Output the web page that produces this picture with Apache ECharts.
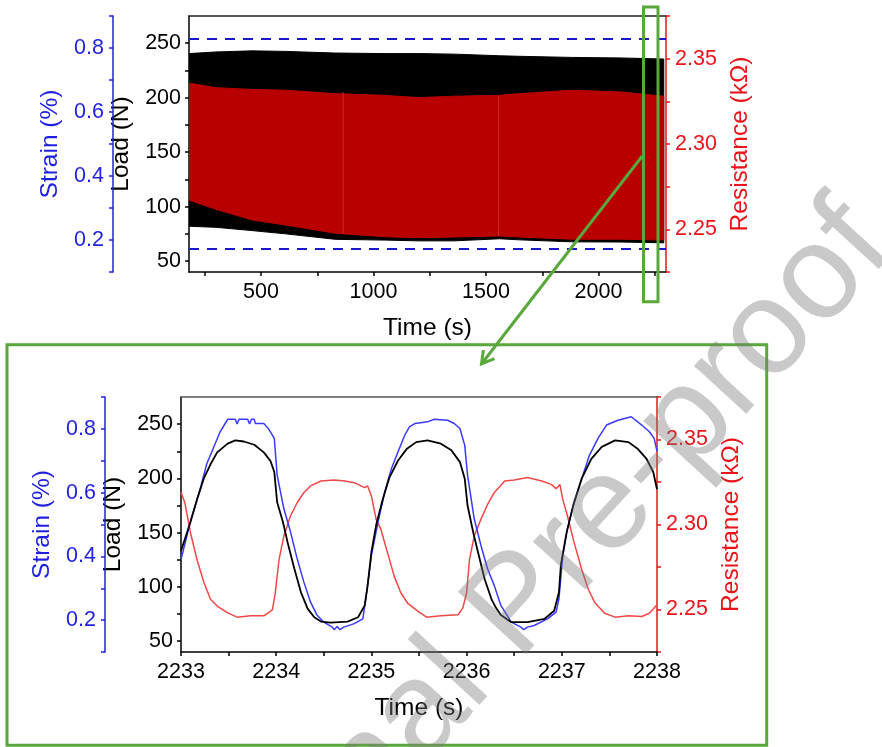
<!DOCTYPE html>
<html>
<head>
<meta charset="utf-8">
</head>
<body style="margin:0;background:#fff">
<div id="main" style="width:882px;height:747px"></div>
<script src="https://cdn.jsdelivr.net/npm/echarts@6.0.0/dist/echarts.min.js"></script>
<script>
var chart = echarts.init(document.getElementById('main'));
var FONT = 'Liberation Sans, Arial, sans-serif';

// overview panel: envelopes of the cyclic load / resistance signal
var ovTime    = [180, 300, 460, 610, 830, 1050, 1200, 1360, 1560, 1650, 1880, 2100, 2290];
var ovLoadTop = [240.5, 242, 243, 242.5, 241, 240.5, 240.5, 240, 238.5, 238, 237, 236.5, 235.5];
var ovLoadBot = [82, 81, 78, 75, 70, 69.3, 68.6, 68.6, 70.5, 69.5, 67.7, 67.5, 66.8];
var ovResTop  = [2.3357, 2.333, 2.332, 2.3315, 2.3295, 2.3285, 2.3272, 2.328, 2.3285, 2.3295, 2.3315, 2.3305, 2.328];
var ovResBot  = [2.2671, 2.2617, 2.2555, 2.2525, 2.2477, 2.2457, 2.2451, 2.2455, 2.2461, 2.2455, 2.2442, 2.2442, 2.2437];
var loadLimits = [254, 61];
var ovRange = [180, 2300];
// faint seams inside the resistance band: time, top, bottom
var seamTime = [865, 1556];
var seamTop  = [2.3305, 2.3285];
var seamBot  = [2.2475, 2.2461];

// zoomed panel: 2233 - 2238 s
var loadPts = [[2233.00,133],[2233.10,160],[2233.17,181],[2233.24,200],[2233.31,213],[2233.38,224],[2233.49,232],
  [2233.57,235],[2233.66,234],[2233.77,231],[2233.87,224],[2233.94,216],[2233.98,206],[2234.01,178],[2234.07,160],
  [2234.12,141],[2234.19,117],[2234.26,95],[2234.33,80],[2234.40,72],[2234.47,68],[2234.57,67],[2234.75,68],
  [2234.86,72],[2234.93,83],[2234.96,101],[2235.00,132],[2235.05,157],[2235.12,181],[2235.19,201],[2235.28,216.5],
  [2235.37,227],[2235.47,233.4],[2235.59,235],[2235.73,232],[2235.84,226],[2235.93,215],[2235.98,200],[2236.01,175],
  [2236.07,150],[2236.12,132],[2236.19,107],[2236.26,89],[2236.30,82],[2236.36,74],[2236.47,67.5],[2236.64,67.5],
  [2236.82,70.6],[2236.92,78],[2236.97,95],[2236.99,120],[2237.05,150],[2237.12,175],[2237.21,200],[2237.31,218],
  [2237.42,229],[2237.56,235],[2237.70,233.4],[2237.80,227],[2237.89,218],[2237.96,206],[2238.00,190]];
var strainPts = [[2233.00,0.39],[2233.10,0.51],[2233.20,0.61],[2233.27,0.69],[2233.34,0.74],[2233.41,0.79],[2233.47,0.82],
  [2233.49,0.83],[2233.57,0.83],[2233.59,0.815],[2233.61,0.83],[2233.70,0.83],[2233.72,0.815],[2233.74,0.83],
  [2233.77,0.83],[2233.78,0.817],[2233.87,0.817],[2233.92,0.80],[2233.98,0.77],[2234.01,0.655],[2234.08,0.55],
  [2234.15,0.477],[2234.22,0.393],[2234.29,0.32],[2234.36,0.257],[2234.43,0.215],[2234.50,0.194],[2234.59,0.178],
  [2234.61,0.17],[2234.64,0.18],[2234.67,0.17],[2234.71,0.178],[2234.82,0.189],[2234.91,0.204],[2234.96,0.309],
  [2235.00,0.403],[2235.07,0.508],[2235.14,0.602],[2235.21,0.675],[2235.28,0.728],[2235.35,0.78],[2235.40,0.806],
  [2235.46,0.817],[2235.59,0.822],[2235.66,0.83],[2235.80,0.827],[2235.87,0.817],[2235.93,0.801],[2235.98,0.749],
  [2236.01,0.655],[2236.08,0.518],[2236.15,0.435],[2236.22,0.361],[2236.29,0.309],[2236.36,0.246],[2236.47,0.194],
  [2236.57,0.178],[2236.60,0.17],[2236.64,0.178],[2236.71,0.183],[2236.85,0.204],[2236.94,0.225],[2236.97,0.267],
  [2237.01,0.403],[2237.06,0.487],[2237.13,0.571],[2237.21,0.644],[2237.29,0.717],[2237.38,0.77],[2237.47,0.812],
  [2237.59,0.827],[2237.73,0.838],[2237.84,0.812],[2237.92,0.791],[2237.97,0.77],[2238.00,0.73]];
var resPts = [[2233.00,2.319],[2233.04,2.313],[2233.10,2.295],[2233.17,2.279],[2233.24,2.266],[2233.31,2.256],
  [2233.38,2.252],[2233.49,2.248],[2233.59,2.2455],[2233.73,2.2463],[2233.87,2.2463],[2233.96,2.2498],[2233.99,2.2597],
  [2234.03,2.2793],[2234.08,2.2932],[2234.15,2.305],[2234.22,2.3128],[2234.29,2.3187],[2234.36,2.3227],[2234.47,2.3256],
  [2234.61,2.3262],[2234.72,2.3256],[2234.82,2.3246],[2234.93,2.3217],[2234.96,2.3227],[2235.00,2.3168],[2235.05,2.303],
  [2235.10,2.2971],[2235.17,2.2833],[2235.24,2.2695],[2235.31,2.2597],[2235.38,2.2538],[2235.49,2.2489],[2235.58,2.2455],
  [2235.73,2.2463],[2235.91,2.2469],[2235.96,2.2508],[2236.00,2.2597],[2236.03,2.2793],[2236.08,2.2932],[2236.15,2.303],
  [2236.22,2.3118],[2236.29,2.3187],[2236.40,2.3256],[2236.50,2.3262],[2236.64,2.3276],[2236.79,2.3256],[2236.89,2.3236],
  [2236.94,2.3211],[2236.98,2.3236],[2237.01,2.3148],[2237.06,2.305],[2237.13,2.2892],[2237.21,2.2734],[2237.28,2.2616],
  [2237.35,2.2538],[2237.45,2.2478],[2237.56,2.2455],[2237.70,2.2463],[2237.84,2.2459],[2237.92,2.2478],[2238.00,2.2528]];

var BLUE = '#1f1fe0', RED = '#e8141a', GREEN = '#5aa83c';

function txt(c, s) { return { color: c, fontSize: s, fontFamily: FONT }; }

function loadAxis(g) {
  return {
    gridIndex: g, type: 'value', position: 'left', min: 40, max: 275,
    name: 'Load (N)', nameLocation: 'middle', nameGap: 52, nameTextStyle: txt('#000', 24.5),
    axisLine: { show: true, lineStyle: { color: '#000', width: 1.5 } },
    axisTick: { show: true, length: 4, customValues: [50, 75, 100, 125, 150, 175, 200, 225, 250], lineStyle: { color: '#000', width: 1.5 } },
    axisLabel: Object.assign({ customValues: [50, 100, 150, 200, 250], margin: 8 }, txt('#000', 21.5)),
    splitLine: { show: false }
  };
}
function strainAxis(g) {
  return {
    gridIndex: g, type: 'value', position: 'left', offset: 76, min: 0.1, max: 0.9, interval: 0.1,
    name: 'Strain (%)', nameLocation: 'middle', nameGap: 43, nameTextStyle: txt(BLUE, 24.5),
    axisLine: { show: true, lineStyle: { color: BLUE, width: 1.5 } },
    axisTick: { show: true, length: 4, lineStyle: { color: BLUE, width: 1.5 } },
    axisLabel: Object.assign({
      margin: 9, showMinLabel: true, showMaxLabel: true,
      formatter: function (v) { var k = Math.round(v * 10); return k % 2 === 0 ? (k / 10).toFixed(1) : ''; }
    }, txt(BLUE, 21.5)),
    splitLine: { show: false }
  };
}
function resAxis(g) {
  return {
    gridIndex: g, type: 'value', position: 'right', min: 2.225, max: 2.375, interval: 0.025,
    name: 'Resistance (k\u03A9)', nameLocation: 'middle', nameGap: 57, nameTextStyle: txt(RED, 24.5),
    axisLine: { show: true, lineStyle: { color: RED, width: 1.5 } },
    axisTick: { show: true, length: 4, lineStyle: { color: RED, width: 1.5 } },
    axisLabel: Object.assign({
      margin: 9,
      formatter: function (v) { var k = Math.round(v * 1000); return k % 50 === 0 ? (k / 1000).toFixed(2) : ''; }
    }, txt(RED, 21.5)),
    splitLine: { show: false }
  };
}
function frameTop(g, min, max, col) {
  return {
    gridIndex: g, type: 'value', position: 'top', min: min, max: max,
    axisLine: { show: true, onZero: false, lineStyle: { color: col, width: 1.5 } },
    axisTick: { show: false }, axisLabel: { show: false }, splitLine: { show: false }
  };
}

// filled envelope between two boundaries, drawn as one polygon in axis coordinates
function band(yi, top, bot, color, z) {
  return {
    type: 'custom', xAxisIndex: 0, yAxisIndex: yi, z: z, silent: true, clip: true,
    data: ovTime.map(function (t, i) { return [t, bot[i], top[i]]; }),
    encode: { x: 0, y: [1, 2] },
    renderItem: function (params, api) {
      if (params.dataIndex !== 0) return null;
      var pts = [], i;
      for (i = 0; i < ovTime.length; i++) pts.push(api.coord([ovTime[i], top[i]]));
      for (i = ovTime.length - 1; i >= 0; i--) pts.push(api.coord([ovTime[i], bot[i]]));
      return { type: 'polygon', shape: { points: pts }, style: { fill: color, stroke: color, lineWidth: 1 } };
    }
  };
}

var series = [
  band(0, ovLoadTop, ovLoadBot, '#000', 2),
  band(2, ovResTop, ovResBot, '#b80000', 3)
];
seamTime.forEach(function (t, i) {
  series.push({
    type: 'line', xAxisIndex: 0, yAxisIndex: 2, symbol: 'none', silent: true, z: 3,
    data: [[t, seamBot[i]], [t, seamTop[i]]],
    lineStyle: { color: '#d02828', width: 1 }
  });
});
loadLimits.forEach(function (v) {
  series.push({
    type: 'line', xAxisIndex: 0, yAxisIndex: 0, symbol: 'none', silent: true, z: 4,
    data: [[ovRange[0], v], [ovRange[1], v]],
    lineStyle: { color: '#1a1acc', type: [10, 8], width: 2 }
  });
});
series.push(
  {
    type: 'line', xAxisIndex: 2, yAxisIndex: 5, data: resPts, symbol: 'none',
    lineStyle: { color: '#f04848', width: 1.5 }, z: 4
  },
  {
    type: 'line', xAxisIndex: 2, yAxisIndex: 4, data: strainPts, symbol: 'none',
    lineStyle: { color: '#3a3aff', width: 1.5 }, z: 5
  },
  {
    type: 'line', xAxisIndex: 2, yAxisIndex: 3, data: loadPts, symbol: 'none',
    lineStyle: { color: '#000', width: 1.8 }, z: 6
  }
);

var option = {
  animation: false,
  backgroundColor: '#fff',
  grid: [
    { left: 189, top: 16, width: 477, height: 256 },
    { left: 181, top: 397, width: 476, height: 255 }
  ],
  xAxis: [
    {
      gridIndex: 0, type: 'value', position: 'bottom', min: ovRange[0], max: ovRange[1],
      name: 'Time (s)', nameLocation: 'middle', nameGap: 44, nameTextStyle: txt('#000', 24.5),
      axisLine: { show: true, onZero: false, lineStyle: { color: '#000', width: 1.5 } },
      axisTick: { show: true, length: 4, customValues: [250, 500, 750, 1000, 1250, 1500, 1750, 2000, 2250], lineStyle: { color: '#000', width: 1.5 } },
      axisLabel: Object.assign({ customValues: [500, 1000, 1500, 2000], margin: 9, formatter: function (v) { return String(v); } }, txt('#000', 21.5)),
      splitLine: { show: false }
    },
    frameTop(0, ovRange[0], ovRange[1], '#222'),
    {
      gridIndex: 1, type: 'value', position: 'bottom', min: 2233, max: 2238, interval: 1,
      name: 'Time (s)', nameLocation: 'middle', nameGap: 44, nameTextStyle: txt('#000', 24.5),
      axisLine: { show: true, onZero: false, lineStyle: { color: '#000', width: 1.5 } },
      axisTick: { show: true, length: 4, lineStyle: { color: '#000', width: 1.5 } },
      minorTick: { show: true, splitNumber: 2, length: 4, lineStyle: { color: '#000', width: 1.5 } },
      axisLabel: Object.assign({ margin: 9, showMinLabel: true, showMaxLabel: true, formatter: function (v) { return String(v); } }, txt('#000', 21.5)),
      splitLine: { show: false }
    },
    frameTop(1, 2233, 2238, '#555')
  ],
  yAxis: [loadAxis(0), strainAxis(0), resAxis(0), loadAxis(1), strainAxis(1), resAxis(1)],
  series: series,
  graphic: [
    { type: 'rect', shape: { x: 643.5, y: 7, width: 14.5, height: 294.7 }, style: { fill: 'none', stroke: GREEN, lineWidth: 3 }, z: 50 },
    { type: 'rect', shape: { x: 7, y: 344.7, width: 759.7, height: 400.5 }, style: { fill: 'none', stroke: GREEN, lineWidth: 3 }, z: 50 },
    { type: 'line', shape: { x1: 642.3, y1: 156, x2: 481.5, y2: 364 }, style: { stroke: GREEN, lineWidth: 3 }, z: 50 },
    { type: 'polyline', shape: { points: [[494.5, 358.7], [481.5, 364], [483.4, 350.1]] }, style: { fill: 'none', stroke: GREEN, lineWidth: 3 }, z: 50 },
    {
      type: 'text', x: 519, y: 607, rotation: 47.5 * Math.PI / 180, z: 60,
      style: { text: 'Journal Pre-proof', font: '134px ' + FONT, fill: 'rgba(120,120,120,0.4)', align: 'center', verticalAlign: 'middle' }
    }
  ]
};
chart.setOption(option);
</script>
</body>
</html>
